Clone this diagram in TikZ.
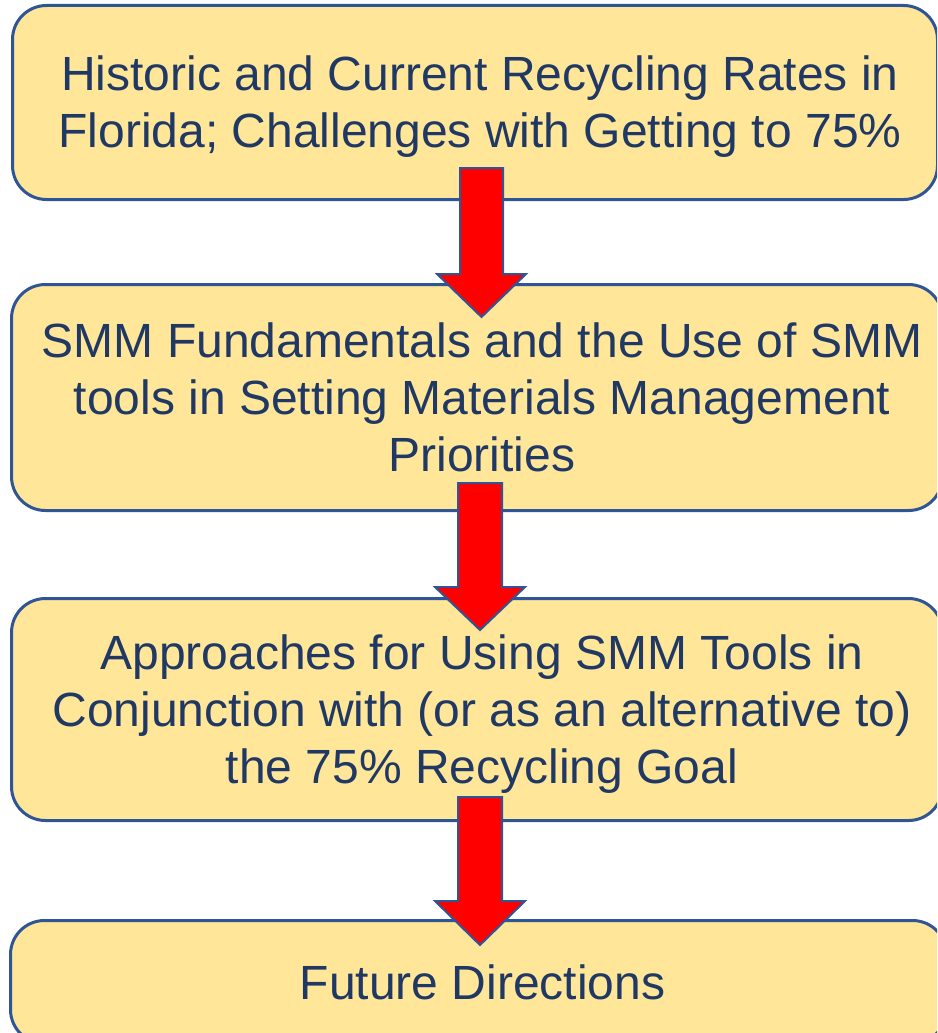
\documentclass[tikz,border=0pt]{standalone}
\usepackage{fontspec}
\setmainfont{Liberation Sans}
\definecolor{boxfill}{HTML}{FFE699}
\definecolor{boxline}{HTML}{2F5597}
\definecolor{ink}{HTML}{203864}
\definecolor{arrowred}{HTML}{FF0000}
\begin{document}
\begin{tikzpicture}[x=1pt,y=-1pt,
  box/.style={draw=boxline, line width=3pt, fill=boxfill, rounded corners=34pt,
              anchor=north west, inner sep=0pt},
  boxtext/.style={text=ink, align=center, inner sep=0pt,
                  font=\fontsize{48}{57}\selectfont},
  blockarrow/.style={draw=boxline, line width=2pt, fill=arrowred, line join=miter}]
  \path[use as bounding box, clip] (0,0) rectangle (937,1033);

  % the four stages
  \node[box, minimum width=925pt, minimum height=194pt] (b1) at (11,4) {};
  \node[box, minimum width=931pt, minimum height=226pt] (b2) at (10,283) {};
  \node[box, minimum width=931pt, minimum height=222pt] (b3) at (10,597) {};
  \node[box, minimum width=936pt, minimum height=123pt] (b4) at (9,919) {};

  \node[boxtext, xshift=5pt, yshift=-4pt] (t1) at (b1.center)
    {Historic and Current Recycling Rates in\\Florida; Challenges with Getting to 75\%};
  \node[boxtext, xshift=5pt] (t2) at (b2.center)
    {SMM Fundamentals and the Use of SMM\\tools in Setting Materials Management\\Priorities};
  \node[boxtext, xshift=5pt, yshift=-5pt] (t3) at (b3.center)
    {Approaches for Using SMM Tools in\\Conjunction with (or as an alternative to)\\the 75\% Recycling Goal};
  \node[boxtext, xshift=4pt] (t4) at (b4.center) {Future Directions};

  % block arrows between the stages
  \coordinate (a1) at (481.5,168);
  \coordinate (a2) at (480,483);
  \coordinate (a3) at (480,797);
  \draw[blockarrow] (a1) ++(-21.5,0) -- ++(43,0) -- ++(0,106) -- ++(23,0)
    -- ++(-44.5,43) -- ++(-44.5,-43) -- ++(23,0) -- cycle;
  \draw[blockarrow] (a2) ++(-22,0) -- ++(44,0) -- ++(0,104) -- ++(23,0)
    -- ++(-45,43) -- ++(-45,-43) -- ++(23,0) -- cycle;
  \draw[blockarrow] (a3) ++(-22,0) -- ++(44,0) -- ++(0,104) -- ++(23,0)
    -- ++(-45,44) -- ++(-45,-44) -- ++(23,0) -- cycle;
\end{tikzpicture}
\end{document}
